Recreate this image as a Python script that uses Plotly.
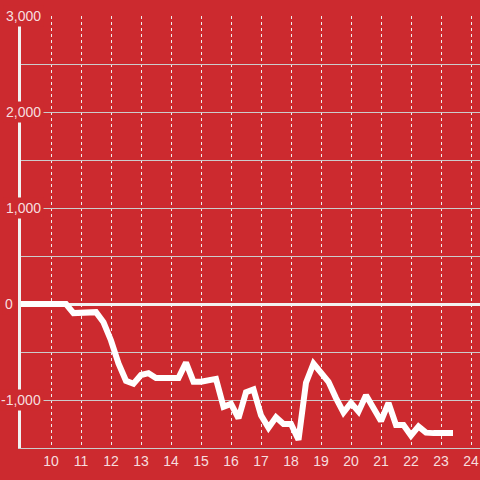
import plotly.graph_objects as go

# Data (hour of day, value)
hours = [9.0, 10.5, 10.75, 11.0, 11.25, 11.5, 11.75, 12.0, 12.25, 12.5, 12.75,
         13.0, 13.25, 13.5, 13.75, 14.0, 14.25, 14.5, 14.75, 15.0, 15.25,
         15.5, 15.75, 16.0, 16.25, 16.5, 16.75, 17.0, 17.25, 17.5, 17.75,
         18.0, 18.25, 18.5, 18.75, 19.0, 19.25, 19.5, 19.75, 20.0, 20.25,
         20.5, 20.75, 21.0, 21.25, 21.5, 21.75, 22.0, 22.25, 22.5, 22.75,
         23.0, 23.25, 23.4]
values = [0, 0, -95, -90, -95, -85, -190, -380, -620, -800, -830,
          -740, -720, -770, -770, -770, -770, -610, -810, -810, -800,
          -780, -1070, -1040, -1190, -920, -890, -1160, -1290, -1180, -1250,
          -1250, -1415, -820, -620, -710, -810, -980, -1130, -1030, -1120,
          -950, -1080, -1220, -1030, -1260, -1260, -1370, -1275, -1340, -1345,
          -1345, -1345, -1345]

y_tick_vals = [3000, 2000, 1000, 0, -1000]
y_tick_text = ["3,000", "2,000", "1,000", "0", "-1,000"]
x_tick_vals = list(range(10, 25))
x_tick_text = [str(v) for v in x_tick_vals]

BG = "#CC2A2F"
TXT = "rgba(255,255,255,0.86)"
FONT = "Liberation Sans, Arial, sans-serif"

fig = go.Figure()
fig.add_trace(go.Scatter(x=hours, y=values, mode="lines",
                         line=dict(color="#ffffff", width=6),
                         hoverinfo="skip", showlegend=False))

plot_w = 480 - 21
annotations = []
for v, t in zip(y_tick_vals, y_tick_text):
    right_px = 15.5 if v == 0 else 43.5
    annotations.append(dict(
        x=(right_px - 21) / plot_w, xref="paper", xanchor="right",
        y=v, yref="y", yanchor="middle",
        text=t, showarrow=False,
        font=dict(family=FONT, size=14, color=TXT),
        bgcolor=BG, borderpad=2))

fig.update_layout(
    width=480, height=480,
    margin=dict(l=21, r=0, t=16, b=32, autoexpand=False),
    paper_bgcolor=BG, plot_bgcolor=BG,
    font=dict(family=FONT, size=14, color=TXT),
    showlegend=False,
    annotations=annotations,
    xaxis=dict(range=[9, 24.3], tickvals=x_tick_vals, ticktext=x_tick_text,
               showgrid=True, gridcolor="#eeeeee", griddash="dot", gridwidth=1,
               zeroline=False, showline=True, linecolor="#cccccc", linewidth=1,
               ticks="", tickfont=dict(family=FONT, size=14, color=TXT)),
    yaxis=dict(range=[-1500, 3000], dtick=500, tick0=0,
               showgrid=True, gridcolor="#cccccc", gridwidth=1,
               zeroline=True, zerolinecolor="#f2f2f2", zerolinewidth=3,
               showline=True, linecolor="#f2f2f2", linewidth=3,
               showticklabels=False, ticks=""),
)

fig.write_html("out.html",
               config={"displayModeBar": False, "staticPlot": True},
               post_script="document.body.style.margin='0';document.body.style.background='%s';" % BG)
